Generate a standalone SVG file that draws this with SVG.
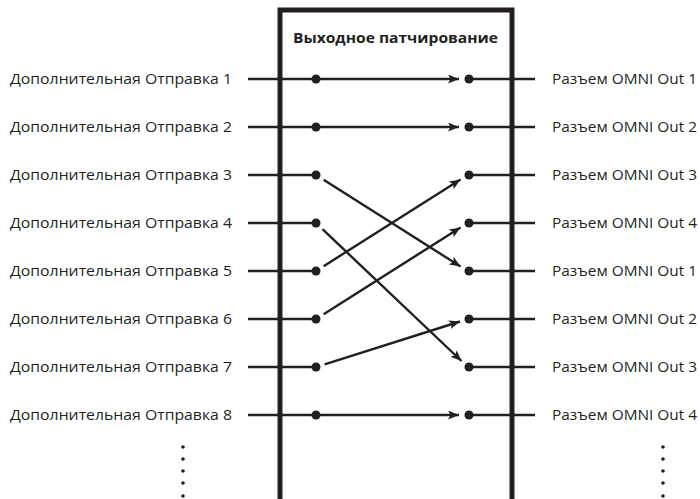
<svg xmlns="http://www.w3.org/2000/svg" width="700" height="499" viewBox="0 0 700 499">
<style>
.lbl{font-family:"Open Sans","Liberation Sans",sans-serif;font-size:15px;fill:#231f20}
.ttl{font-family:"Open Sans","Liberation Sans",sans-serif;font-size:15px;font-weight:bold;fill:#231f20}
.ln{stroke:#231f20;stroke-width:2.4;fill:none}
.ar{stroke:#231f20;stroke-width:2.4;fill:none;marker-end:url(#ah)}
.dot{fill:#231f20}
.sd{fill:#231f20}
</style>
<defs>
<marker id="ah" markerUnits="userSpaceOnUse" markerWidth="14" markerHeight="12" refX="11" refY="4.5" orient="auto" viewBox="0 0 14 12">
<path d="M0,0 L11,4.5 L0,9 L2.5,4.5 z" fill="#231f20"/>
</marker>
</defs>
<g id="box">
<path d="M280,505 V10 H512 V505" fill="none" stroke="#231f20" stroke-width="5"/>
<text class="ttl" x="293" y="43" textLength="205" lengthAdjust="spacingAndGlyphs">Выходное патчирование</text>
</g>
<g id="inputs">
<g id="in1"><text class="lbl" x="10" y="84" textLength="222" lengthAdjust="spacingAndGlyphs">Дополнительная Отправка 1</text><line class="ln" x1="248" y1="79" x2="316" y2="79"/><circle class="dot" cx="316" cy="79" r="4.5"/></g>
<g id="in2"><text class="lbl" x="10" y="132" textLength="222" lengthAdjust="spacingAndGlyphs">Дополнительная Отправка 2</text><line class="ln" x1="248" y1="127" x2="316" y2="127"/><circle class="dot" cx="316" cy="127" r="4.5"/></g>
<g id="in3"><text class="lbl" x="10" y="180" textLength="222" lengthAdjust="spacingAndGlyphs">Дополнительная Отправка 3</text><line class="ln" x1="248" y1="175" x2="316" y2="175"/><circle class="dot" cx="316" cy="175" r="4.5"/></g>
<g id="in4"><text class="lbl" x="10" y="228" textLength="222" lengthAdjust="spacingAndGlyphs">Дополнительная Отправка 4</text><line class="ln" x1="248" y1="223" x2="316" y2="223"/><circle class="dot" cx="316" cy="223" r="4.5"/></g>
<g id="in5"><text class="lbl" x="10" y="276" textLength="222" lengthAdjust="spacingAndGlyphs">Дополнительная Отправка 5</text><line class="ln" x1="248" y1="271" x2="316" y2="271"/><circle class="dot" cx="316" cy="271" r="4.5"/></g>
<g id="in6"><text class="lbl" x="10" y="324" textLength="222" lengthAdjust="spacingAndGlyphs">Дополнительная Отправка 6</text><line class="ln" x1="248" y1="319" x2="316" y2="319"/><circle class="dot" cx="316" cy="319" r="4.5"/></g>
<g id="in7"><text class="lbl" x="10" y="372" textLength="222" lengthAdjust="spacingAndGlyphs">Дополнительная Отправка 7</text><line class="ln" x1="248" y1="367" x2="316" y2="367"/><circle class="dot" cx="316" cy="367" r="4.5"/></g>
<g id="in8"><text class="lbl" x="10" y="420" textLength="222" lengthAdjust="spacingAndGlyphs">Дополнительная Отправка 8</text><line class="ln" x1="248" y1="415" x2="316" y2="415"/><circle class="dot" cx="316" cy="415" r="4.5"/></g>
</g>
<g id="outputs">
<g id="out1"><text class="lbl" x="552" y="84" textLength="145" lengthAdjust="spacingAndGlyphs">Разъем OMNI Out 1</text><line class="ln" x1="469" y1="79" x2="535" y2="79"/><circle class="dot" cx="469" cy="79" r="4.5"/></g>
<g id="out2"><text class="lbl" x="552" y="132" textLength="145" lengthAdjust="spacingAndGlyphs">Разъем OMNI Out 2</text><line class="ln" x1="469" y1="127" x2="535" y2="127"/><circle class="dot" cx="469" cy="127" r="4.5"/></g>
<g id="out3"><text class="lbl" x="552" y="180" textLength="145" lengthAdjust="spacingAndGlyphs">Разъем OMNI Out 3</text><line class="ln" x1="469" y1="175" x2="535" y2="175"/><circle class="dot" cx="469" cy="175" r="4.5"/></g>
<g id="out4"><text class="lbl" x="552" y="228" textLength="145" lengthAdjust="spacingAndGlyphs">Разъем OMNI Out 4</text><line class="ln" x1="469" y1="223" x2="535" y2="223"/><circle class="dot" cx="469" cy="223" r="4.5"/></g>
<g id="out5"><text class="lbl" x="552" y="276" textLength="145" lengthAdjust="spacingAndGlyphs">Разъем OMNI Out 1</text><line class="ln" x1="469" y1="271" x2="535" y2="271"/><circle class="dot" cx="469" cy="271" r="4.5"/></g>
<g id="out6"><text class="lbl" x="552" y="324" textLength="145" lengthAdjust="spacingAndGlyphs">Разъем OMNI Out 2</text><line class="ln" x1="469" y1="319" x2="535" y2="319"/><circle class="dot" cx="469" cy="319" r="4.5"/></g>
<g id="out7"><text class="lbl" x="552" y="372" textLength="145" lengthAdjust="spacingAndGlyphs">Разъем OMNI Out 3</text><line class="ln" x1="469" y1="367" x2="535" y2="367"/><circle class="dot" cx="469" cy="367" r="4.5"/></g>
<g id="out8"><text class="lbl" x="552" y="420" textLength="145" lengthAdjust="spacingAndGlyphs">Разъем OMNI Out 4</text><line class="ln" x1="469" y1="415" x2="535" y2="415"/><circle class="dot" cx="469" cy="415" r="4.5"/></g>
</g>
<g id="connectors">
<line class="ar" x1="316" y1="79" x2="459" y2="79"/>
<line class="ar" x1="316" y1="127" x2="459" y2="127"/>
<line class="ar" x1="323.6" y1="179.8" x2="460.5" y2="266.5"/>
<line class="ar" x1="322.5" y1="229.2" x2="461.5" y2="361"/>
<line class="ar" x1="323.6" y1="266.2" x2="460.5" y2="179.5"/>
<line class="ar" x1="323.6" y1="314.2" x2="460.5" y2="227.5"/>
<line class="ar" x1="324.6" y1="364.3" x2="460" y2="321.5"/>
<line class="ar" x1="316" y1="415" x2="459" y2="415"/>
</g>
<g id="ellipsis-left">
<circle class="sd" cx="183" cy="447" r="1.8"/><circle class="sd" cx="183" cy="459" r="1.8"/><circle class="sd" cx="183" cy="471" r="1.8"/><circle class="sd" cx="183" cy="483" r="1.8"/><circle class="sd" cx="183" cy="496" r="1.8"/>
</g>
<g id="ellipsis-right">
<circle class="sd" cx="663" cy="447" r="1.8"/><circle class="sd" cx="663" cy="459" r="1.8"/><circle class="sd" cx="663" cy="471" r="1.8"/><circle class="sd" cx="663" cy="483" r="1.8"/><circle class="sd" cx="663" cy="496" r="1.8"/>
</g>
</svg>
